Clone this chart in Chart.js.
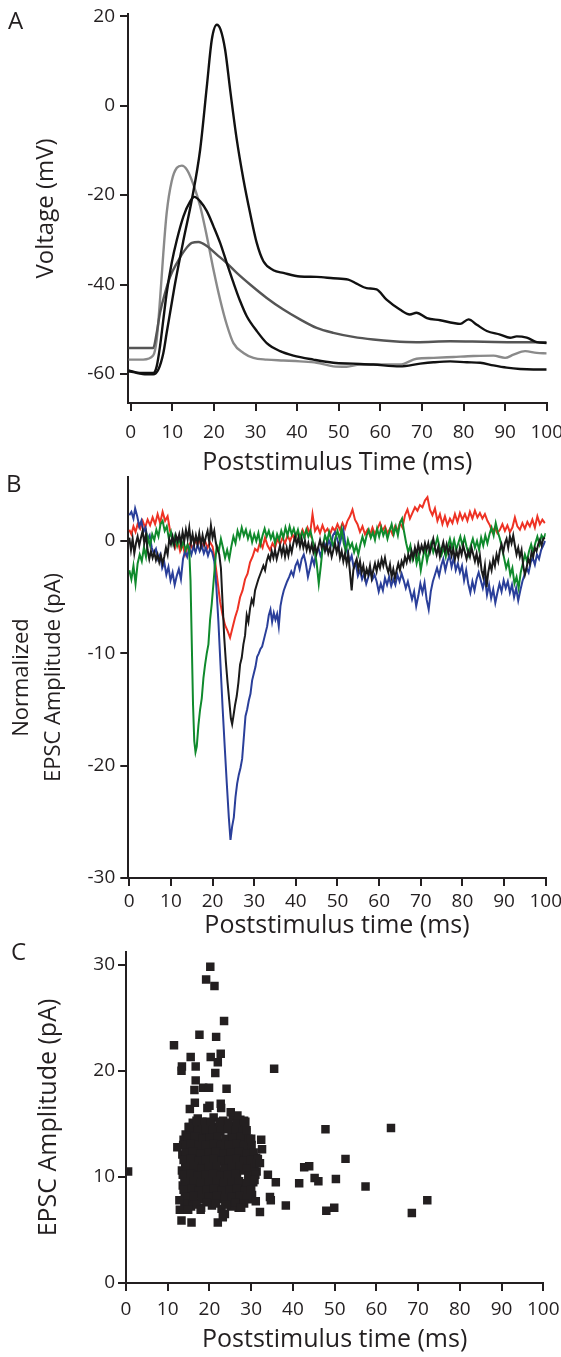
<!DOCTYPE html>
<html><head><meta charset="utf-8">
<script src="https://cdn.jsdelivr.net/npm/chart.js@4/dist/chart.umd.min.js"></script>
<style>
html,body{margin:0;padding:0;background:#fff;width:561px;height:1357px;overflow:hidden}
canvas{position:absolute;left:0}
</style></head><body>
<canvas id="cA" width="561" height="490" style="top:0px"></canvas>
<canvas id="cB" width="561" height="485" style="top:465px"></canvas>
<canvas id="cC" width="561" height="422" style="top:935px"></canvas>
<script>
// ---------- Panel A : membrane voltage traces ----------
const timeTicks = [0,10,20,30,40,50,60,70,80,90,100];
const voltTicks = [20,0,-20,-40,-60];
const spikeT = [-0.5,0.6,3.8,5.4,6.65,7.85,8.65,9.6,10.7,12.7,14.7,16.7,18.3,19.5,20.7,21.6,22.7,23.9,25.5,27.1,28.7,30.3,31.9,34.3,36.7,40.7,44.7,48.7,52.3,54.3,56.7,59.1,61.5,64.7,67.1,68.7,71.2,74.4,77.6,79.2,81.2,83.2,85.6,88.8,91.2,92.8,95.2,97.6,100];
const spikeV = [-59.4,-59.6,-60.1,-60.1,-59.0,-55.3,-50.8,-45.6,-39.6,-30.0,-21.0,-9.8,4.3,14.8,18.1,17.0,12.5,3.6,-7.6,-16.5,-24.0,-30.7,-34.8,-36.8,-37.4,-38.2,-38.3,-38.6,-38.9,-39.8,-40.8,-41.1,-43.4,-45.6,-46.7,-46.3,-47.5,-48.0,-48.6,-48.8,-47.8,-49.0,-50.4,-51.2,-51.9,-51.6,-51.9,-52.9,-53.1];
const medT = [-0.5,2.2,5.4,6.25,7.05,7.85,8.65,9.85,11.1,12.7,14.3,15.3,16.7,18.3,19.9,21.5,23.1,24.7,26.3,27.9,30.3,32.7,35.9,39.1,43.9,48.7,53.5,58.3,64.7,69.6,72.8,76.8,80.8,84.0,87.2,90.4,93.6,96.8,100];
const medV = [-59.2,-59.8,-59.8,-58.3,-53.8,-47.8,-41.9,-35.2,-30.0,-24.7,-21.4,-20.4,-21.4,-23.6,-27.0,-30.7,-35.2,-39.6,-43.7,-47.1,-50.4,-53.1,-54.9,-55.9,-56.8,-57.5,-57.7,-57.9,-58.3,-57.7,-57.4,-57.2,-57.4,-57.5,-58.1,-58.6,-58.9,-59.0,-59.0];
const lightT = [-0.5,3.0,5.4,6.25,7.05,7.85,8.65,9.85,11.1,12.3,13.5,15.1,16.7,18.3,19.9,21.5,23.1,24.7,27.1,29.5,32.7,36.7,40.7,44.7,48.7,51.9,55.1,59.9,64.7,68.7,72.8,77.6,82.4,87.2,90.0,92.0,94.8,97.6,100];
const lightV = [-56.8,-56.8,-55.9,-52.3,-43.4,-32.9,-24.0,-16.9,-13.9,-13.4,-14.3,-17.7,-22.5,-29.2,-36.7,-43.4,-49.0,-53.1,-55.3,-56.4,-56.8,-57.0,-57.2,-57.5,-58.3,-58.4,-57.9,-57.9,-57.9,-56.6,-56.4,-56.2,-56.0,-55.9,-56.4,-55.7,-54.9,-55.3,-55.4];
const darkT = [-0.5,3.0,5.4,6.25,7.05,8.25,9.5,11.1,13.1,14.7,16.3,18.3,20.7,23.1,25.5,28.7,32.7,36.7,40.7,44.7,48.7,53.5,58.3,63.1,68.7,76.8,84.8,92.8,100];
const darkV = [-54.2,-54.2,-54.2,-50.8,-46.3,-41.9,-38.2,-35.2,-32.2,-30.7,-30.5,-31.4,-33.3,-35.2,-37.4,-40.0,-43.0,-45.6,-47.8,-49.7,-50.8,-51.7,-52.3,-52.7,-52.9,-52.7,-52.8,-52.9,-52.9];

// ---------- Panel B : normalized EPSC traces ----------
const epscTicks = [0,-10,-20,-30];
const redT = [0.0,0.5,1.0,1.5,2.0,2.6,3.2,3.8,4.4,5.0,5.6,6.2,6.8,7.4,8.0,8.6,9.2,9.8,10.4,11.0,11.6,12.2,12.8,13.4,14.0,14.6,15.2,15.8,16.4,17.0,17.6,18.2,18.8,19.4,20.0,20.6,21.2,21.8,22.4,23.0,23.6,24.2,24.8,25.4,26.0,26.6,27.2,27.8,28.4,29.0,29.6,30.2,30.8,31.4,32.0,32.6,33.2,33.8,34.4,35.0,35.6,36.2,36.8,37.4,38.0,38.6,39.2,39.8,40.4,41.0,41.6,42.2,42.8,43.4,44.0,44.6,45.2,45.8,46.4,47.0,47.6,48.2,48.8,49.4,50.0,50.6,51.2,51.8,52.4,53.0,53.6,54.2,54.8,55.4,56.0,56.6,57.2,57.8,58.4,59.0,59.6,60.2,60.8,61.4,62.0,62.6,63.2,63.8,64.4,65.0,65.6,66.2,66.8,67.4,68.0,68.6,69.2,69.8,70.4,71.0,71.6,72.2,72.8,73.4,74.0,74.6,75.2,75.8,76.4,77.0,77.6,78.2,78.8,79.4,80.0,80.6,81.2,81.8,82.4,83.0,83.6,84.2,84.8,85.4,86.0,86.6,87.2,87.8,88.4,89.0,89.6,90.2,90.8,91.4,92.0,92.6,93.2,93.8,94.4,95.0,95.6,96.2,96.8,97.4,98.0,98.6,99.2,99.8];
const redV = [1.0,0.6,1.3,0.8,1.5,1.1,1.8,1.2,1.9,1.4,2.1,1.5,2.4,1.6,2.6,1.8,2.2,0.9,0.2,-0.6,0.1,-0.9,-0.3,-1.2,-0.5,-0.2,-0.7,0.1,-0.4,0.2,-0.5,0.0,-0.6,-0.1,-0.5,-1.8,-3.6,-5.4,-6.6,-7.5,-8.0,-8.6,-7.7,-6.8,-6.1,-5.0,-4.4,-3.4,-2.9,-1.9,-1.4,-0.7,-0.9,-0.1,-0.6,0.3,-0.4,-0.8,-0.2,-0.6,0.2,-0.3,0.3,-0.2,0.5,0.0,0.6,0.1,0.8,0.3,1.0,0.5,1.2,0.6,2.4,0.9,1.3,0.7,1.4,0.8,1.1,0.6,1.2,0.9,1.5,1.0,1.6,1.1,1.8,2.2,2.8,1.9,1.5,0.8,1.3,0.6,1.0,0.5,1.2,0.6,1.1,1.6,0.9,1.3,0.7,1.1,0.6,1.3,0.9,1.6,1.2,2.3,2.8,2.0,2.5,3.0,2.7,3.2,3.0,3.6,3.9,2.8,2.3,2.9,1.8,2.4,1.5,2.2,1.4,2.0,1.6,2.4,1.7,2.5,1.9,2.4,1.8,2.6,2.0,2.7,2.1,2.5,2.0,2.4,1.8,1.4,0.8,1.2,0.7,1.0,1.5,0.9,1.4,0.8,1.2,2.1,1.3,1.0,1.6,1.1,1.7,1.3,1.9,1.2,2.2,1.5,1.9,1.6];
const blueT = [0.0,0.5,1.0,1.4,1.9,2.4,2.9,3.4,3.9,4.4,4.9,5.4,5.9,6.4,6.9,7.4,7.9,8.4,8.9,9.4,9.9,10.4,10.9,11.4,11.9,12.4,12.9,13.4,13.9,14.4,14.9,15.4,15.9,16.4,16.9,17.4,17.9,18.4,18.9,19.4,19.9,20.4,20.9,21.4,21.9,22.4,22.9,23.4,23.9,24.3,24.7,25.1,25.5,25.9,26.3,26.7,27.1,27.5,27.9,28.3,28.7,29.1,29.5,29.9,30.3,30.7,31.1,31.5,31.9,32.3,32.7,33.1,33.5,33.9,34.3,34.7,35.1,35.5,35.9,36.3,36.7,37.1,37.5,37.9,38.4,38.9,39.4,39.9,40.4,40.9,41.4,41.9,42.4,42.9,43.4,43.9,44.4,44.9,45.4,45.9,46.4,46.9,47.4,47.9,48.4,48.9,49.4,49.9,50.4,50.9,51.4,51.9,52.4,52.9,53.4,53.9,54.4,54.9,55.4,55.9,56.4,56.9,57.4,57.9,58.4,58.9,59.4,59.9,60.4,60.9,61.4,61.9,62.4,62.9,63.4,63.9,64.4,64.9,65.4,65.9,66.4,66.9,67.4,67.9,68.4,68.9,69.4,69.9,70.4,70.9,71.4,71.9,72.4,72.9,73.4,73.9,74.4,74.9,75.4,75.9,76.4,76.9,77.4,77.9,78.4,78.9,79.4,79.9,80.4,80.9,81.4,81.9,82.4,82.9,83.4,83.9,84.4,84.9,85.4,85.9,86.4,86.9,87.4,87.9,88.4,88.9,89.4,89.9,90.4,90.9,91.4,91.9,92.4,92.9,93.4,93.9,94.4,94.9,95.4,95.9,96.4,96.9,97.4,97.9,98.4,98.9,99.4,99.9];
const blueV = [2.3,2.6,2.0,2.9,2.2,1.3,1.8,0.8,1.2,0.1,0.5,-0.6,-1.1,-0.7,-1.6,-1.2,-2.4,-1.9,-3.0,-2.3,-3.5,-2.8,-3.9,-3.1,-2.5,-3.4,-1.6,-0.9,-1.4,-0.6,-1.2,-0.5,-1.0,-0.3,-0.9,-0.4,-1.1,-0.6,-1.3,-0.7,-1.0,-1.8,-4.0,-7.2,-11.0,-14.8,-18.2,-21.5,-24.6,-26.6,-25.4,-24.6,-22.8,-21.6,-20.8,-20.2,-19.4,-17.5,-15.6,-15.0,-14.2,-13.6,-12.4,-11.8,-11.2,-10.3,-10.0,-9.6,-9.4,-8.8,-8.2,-7.6,-6.6,-6.1,-7.2,-6.4,-7.0,-6.5,-7.6,-5.8,-5.0,-4.4,-4.0,-3.6,-3.2,-2.7,-3.1,-2.2,-1.8,-2.5,-1.6,-1.2,-2.0,-3.2,-2.4,-1.5,-2.1,-1.0,-0.6,-1.3,-0.8,-0.2,-0.7,0.1,-0.4,0.5,0.8,0.2,-0.5,0.3,1.0,-0.3,-1.0,-1.8,-1.3,-2.4,-2.0,-3.1,-2.6,-3.4,-2.9,-3.8,-3.2,-2.6,-3.4,-3.0,-3.6,-4.5,-3.8,-4.4,-3.3,-3.9,-3.2,-4.0,-3.4,-3.9,-3.0,-3.6,-2.9,-3.5,-4.2,-3.6,-4.4,-5.2,-4.5,-5.8,-4.9,-3.8,-4.6,-3.7,-5.2,-6.1,-4.5,-3.6,-3.0,-2.4,-3.1,-2.2,-1.6,-2.6,-1.8,-1.3,-2.3,-1.5,-2.6,-2.0,-2.8,-2.2,-3.5,-2.6,-3.8,-4.6,-3.6,-4.4,-3.4,-2.8,-3.5,-4.2,-3.3,-4.8,-3.9,-5.1,-4.3,-5.5,-4.6,-3.8,-4.5,-3.5,-4.2,-3.6,-4.6,-3.9,-5.0,-4.2,-5.3,-4.4,-3.6,-3.0,-2.4,-2.8,-1.9,-1.5,-2.1,-1.2,-1.6,-0.8,-0.4,0.0];
const greenT = [0.0,0.5,1.0,1.5,2.0,2.5,3.0,3.5,4.0,4.5,5.0,5.5,6.0,6.5,7.0,7.5,8.0,8.5,9.0,9.5,10.0,10.5,11.0,11.5,12.0,12.5,13.0,13.5,14.0,14.4,14.7,15.0,15.3,15.6,15.9,16.2,16.6,17.0,17.4,17.8,18.2,18.6,19.0,19.4,19.8,20.2,20.6,21.0,21.5,22.0,22.5,23.0,23.5,24.0,24.5,25.0,25.5,26.0,26.5,27.0,27.5,28.0,28.5,29.0,29.5,30.0,30.5,31.0,31.5,32.0,32.5,33.0,33.5,34.0,34.5,35.0,35.5,36.0,36.5,37.0,37.5,38.0,38.5,39.0,39.5,40.0,40.5,41.0,41.5,42.0,42.5,43.0,43.5,44.0,44.5,45.0,45.5,46.0,46.5,47.0,47.5,48.0,48.5,49.0,49.5,50.0,50.5,51.0,51.5,52.0,52.5,53.0,53.5,54.0,54.5,55.0,55.5,56.0,56.5,57.0,57.5,58.0,58.5,59.0,59.5,60.0,60.5,61.0,61.5,62.0,62.5,63.0,63.5,64.0,64.5,65.0,65.5,66.0,66.5,67.0,67.5,68.0,68.5,69.0,69.5,70.0,70.5,71.0,71.5,72.0,72.5,73.0,73.5,74.0,74.5,75.0,75.5,76.0,76.5,77.0,77.5,78.0,78.5,79.0,79.5,80.0,80.5,81.0,81.5,82.0,82.5,83.0,83.5,84.0,84.5,85.0,85.5,86.0,86.5,87.0,87.5,88.0,88.5,89.0,89.5,90.0,90.5,91.0,91.5,92.0,92.5,93.0,93.5,94.0,94.5,95.0,95.5,96.0,96.5,97.0,97.5,98.0,98.5,99.0,99.5,100.0];
const greenV = [-2.6,-3.4,-2.2,-3.8,-2.0,-1.2,-1.8,-0.6,-1.4,0.3,-0.4,0.6,0.1,1.0,0.4,1.5,1.8,0.9,1.3,0.2,0.8,-0.2,0.5,-0.4,0.3,-0.6,0.0,-0.8,-0.3,-0.9,-3.5,-9.0,-14.5,-17.8,-18.8,-18.3,-16.4,-15.0,-14.0,-12.2,-11.0,-10.0,-9.2,-7.0,-5.6,-3.8,-2.0,-0.4,-0.9,0.2,-0.6,-1.5,-0.8,-1.6,-0.5,0.4,-0.2,0.9,0.3,1.2,0.5,1.0,0.2,0.8,-0.1,0.6,0.0,0.7,-0.3,0.5,1.1,0.4,0.9,0.2,0.7,-0.2,0.6,0.1,0.9,0.3,1.2,0.5,1.3,0.6,1.1,0.4,1.0,0.2,0.8,0.3,1.0,0.4,0.9,0.1,-0.8,-2.0,-3.8,-2.2,-0.4,0.5,0.0,0.8,0.1,-0.5,0.3,0.9,0.2,1.1,-0.2,-0.9,0.1,-0.6,-0.2,-1.0,-0.4,-1.2,-0.3,0.4,-0.3,0.5,1.0,0.3,0.8,0.1,1.1,0.4,1.2,0.5,1.0,0.2,0.9,1.5,0.6,1.3,0.5,1.6,2.0,0.8,-0.2,-1.0,-0.4,-1.6,-0.9,-2.0,-1.2,-2.6,-1.5,-0.6,-1.8,-0.9,-0.2,-1.0,-0.4,0.3,-0.5,-1.2,-0.6,-1.4,-0.5,0.2,-0.6,0.1,-0.8,-0.2,0.4,-0.4,0.3,-0.5,-1.2,-0.4,0.2,-0.6,0.0,-0.8,0.3,-0.4,0.5,-0.2,0.6,1.2,0.5,1.6,0.8,0.2,-0.6,-1.5,-2.4,-1.8,-3.0,-2.4,-3.8,-3.2,-4.2,-2.8,-2.0,-1.2,-1.8,-0.9,-0.3,-1.0,-0.2,0.4,-0.3,0.5,0.2,0.7];
const blackT = [0.0,0.4,0.8,1.2,1.6,2.0,2.4,2.8,3.2,3.6,4.0,4.4,4.8,5.2,5.6,6.0,6.4,6.8,7.2,7.6,8.0,8.4,8.8,9.2,9.6,10.0,10.4,10.8,11.2,11.6,12.0,12.4,12.8,13.2,13.6,14.0,14.4,14.8,15.2,15.6,16.0,16.4,16.8,17.2,17.6,18.0,18.4,18.8,19.2,19.6,20.0,20.4,20.8,21.2,21.6,22.0,22.4,22.8,23.2,23.6,24.0,24.4,24.7,25.0,25.4,25.8,26.2,26.6,27.0,27.4,27.8,28.2,28.6,29.0,29.4,29.8,30.2,30.6,31.0,31.4,31.8,32.2,32.6,33.0,33.4,33.8,34.2,34.6,35.0,35.4,35.8,36.2,36.6,37.0,37.4,37.8,38.2,38.6,39.0,39.4,39.8,40.2,40.6,41.0,41.4,41.8,42.2,42.6,43.0,43.4,43.8,44.2,44.6,45.0,45.4,45.8,46.2,46.6,47.0,47.4,47.8,48.2,48.6,49.0,49.4,49.8,50.2,50.6,51.0,51.4,51.8,52.2,52.6,53.0,53.4,53.8,54.2,54.6,55.0,55.4,55.8,56.2,56.6,57.0,57.4,57.8,58.2,58.6,59.0,59.4,59.8,60.2,60.6,61.0,61.4,61.8,62.2,62.6,63.0,63.4,63.8,64.2,64.6,65.0,65.4,65.8,66.2,66.6,67.0,67.4,67.8,68.2,68.6,69.0,69.4,69.8,70.2,70.6,71.0,71.4,71.8,72.2,72.6,73.0,73.4,73.8,74.2,74.6,75.0,75.4,75.8,76.2,76.6,77.0,77.4,77.8,78.2,78.6,79.0,79.4,79.8,80.2,80.6,81.0,81.4,81.8,82.2,82.6,83.0,83.4,83.8,84.2,84.6,85.0,85.4,85.8,86.2,86.6,87.0,87.4,87.8,88.2,88.6,89.0,89.4,89.8,90.2,90.6,91.0,91.4,91.8,92.2,92.6,93.0,93.4,93.8,94.2,94.6,95.0,95.4,95.8,96.2,96.6,97.0,97.4,97.8,98.2,98.6,99.0,99.4,99.8];
const blackV = [0.3,-0.8,0.2,-1.1,-0.2,0.4,-0.4,0.3,0.9,-0.2,0.6,-0.8,-1.6,-0.9,-1.5,-1.0,-1.7,-1.2,-1.9,-1.3,-2.0,-1.4,-0.6,-1.2,0.2,-0.3,0.4,-0.4,0.5,0.0,0.6,-0.2,0.8,0.0,1.0,0.2,1.2,-0.2,0.6,-0.3,0.5,-0.2,0.7,-0.4,0.5,-0.3,0.4,0.9,-0.1,1.4,0.3,0.9,-0.2,-0.8,-1.2,-2.4,-5.5,-8.6,-10.8,-12.6,-14.2,-15.8,-16.3,-15.6,-14.6,-13.8,-12.6,-11.0,-10.4,-9.2,-8.4,-6.6,-7.2,-6.0,-5.2,-5.6,-4.4,-3.9,-3.4,-3.0,-2.6,-2.2,-2.6,-1.8,-1.3,-1.7,-0.9,-1.5,-0.8,-1.6,-1.0,-0.4,-1.2,-0.5,-1.4,-0.6,-1.3,-0.4,-1.0,-0.2,0.4,-0.3,0.3,-0.5,0.2,-0.6,0.0,-0.8,-0.2,-0.9,-0.3,-1.0,-0.4,-1.1,-0.5,0.1,-0.6,-0.2,-0.9,-0.3,-1.1,-0.6,-1.4,-0.8,-0.2,-1.0,-0.4,-1.5,-0.9,-1.8,-1.1,-2.0,-1.2,-2.8,-4.4,-2.6,-2.0,-1.6,-2.5,-1.8,-2.8,-2.2,-3.2,-2.5,-3.0,-2.2,-3.3,-2.6,-2.0,-2.7,-1.9,-2.4,-1.6,-2.2,-1.5,-2.3,-2.8,-2.1,-3.2,-2.5,-3.3,-2.6,-2.0,-2.6,-1.8,-2.2,-1.4,-1.9,-1.2,-1.7,-0.9,-1.5,-0.6,-1.2,-0.3,-1.0,-0.4,-0.9,-0.2,-0.8,-0.2,-1.0,-0.4,0.2,-0.6,-1.2,-0.5,-1.4,-0.7,-0.1,-0.9,-0.3,-1.1,-0.5,-1.3,-0.7,-1.6,-0.9,-1.5,-0.6,-1.2,-0.4,-1.0,-1.6,-0.9,-1.4,-0.6,-1.2,-1.8,-1.1,-2.0,-1.3,-2.6,-3.2,-2.2,-4.1,-2.8,-2.0,-2.6,-1.6,-2.2,-1.2,-1.8,-0.8,-0.3,-1.0,-0.2,0.2,-0.6,0.4,-0.2,0.5,-0.4,-1.2,-0.6,-1.4,-0.8,-2.2,-3.0,-2.4,-1.6,-2.0,-1.0,-1.4,-0.6,-0.9,-0.3,0.1,-0.4,0.2,0.3];

// ---------- Panel C : EPSC amplitude vs latency ----------
const ampTicks = [0,10,20,30];
const latencyMs = [
 17.2,19.4,21.0,23.3,25.6,27.4,
 15.0,16.6,18.5,20.3,22.1,24.0,26.2,28.1,
 14.3,16.0,17.9,19.7,21.5,25.3,27.0,28.8,
 13.8,15.6,17.3,19.1,20.9,22.7,24.6,26.4,28.3,29.9,
 14.6,16.4,18.2,20.0,21.8,23.6,25.5,27.3,29.1,
 13.5,15.3,17.1,18.9,20.7,22.5,24.3,26.2,28.0,29.8,31.2,
 14.2,16.0,17.8,19.6,21.4,23.2,25.1,26.9,28.7,30.4,
 13.4,15.2,17.0,18.8,20.6,22.4,24.2,26.0,27.8,29.6,31.3,
 14.0,15.8,17.6,19.4,21.2,23.0,24.8,26.6,30.1,
 13.6,15.4,17.2,19.0,20.8,22.6,24.4,26.2,28.0,29.7,
 14.1,15.9,17.7,19.5,21.3,23.1,24.9,26.7,28.5,30.2,
 14.8,16.6,18.4,20.2,22.0,23.8,25.6,27.4,29.2,
 15.6,18.0,20.6,22.9,25.1,27.0,
 16.0,18.3,20.2,22.4,24.6,26.5,28.6,
 15.4,17.2,19.0,20.8,22.6,24.5,26.4,28.0,
 14.7,16.5,18.4,20.1,21.9,23.8,25.6,27.5,29.3,
 13.7,15.5,17.4,19.2,21.0,22.8,24.7,26.5,28.2,30.1,
 14.3,16.1,18.0,19.8,21.6,23.4,25.2,27.1,28.9,30.6,
 13.8,15.6,17.4,19.2,21.0,22.9,24.7,26.5,28.3,30.0,31.6,
 14.5,16.3,18.1,19.9,21.7,23.6,25.4,27.2,29.0,30.8,
 13.6,15.4,17.2,19.0,20.9,22.7,24.5,26.3,29.3,31.0,
 14.4,16.2,18.0,19.8,21.7,23.5,25.3,27.1,28.9,30.5,
 13.8,15.7,17.5,19.3,21.1,23.0,24.8,26.6,28.4,30.0,
 14.4,16.2,18.1,19.9,21.8,23.6,25.4,27.2,29.0,
 14.0,16.9,19.3,21.5,24.0,26.2,28.3,
 0.5,11.5,17.6,19.2,20.2,21.2,23.5,21.6,15.5,20.3,22.7,13.4,13.3,16.7,22.0,21.4,35.5,16.7,16.4,18.5,19.9,24.1,16.5,15.3,19.5,20.0,22.7,22.8,
 47.8,63.5,32.4,32.6,52.6,42.7,43.9,45.2,46.1,50.3,41.5,35.9,34.0,57.4,72.2,68.5,48.0,49.9,38.3,34.5,34.7,32.1,31.1,
 12.3,12.8,12.9,14.9,13.3,15.7,17.9,22.0,23.7,23.2,27.6,30.0,28.9,28.3,26.7,25.1,15.2,16.9,30.8,31.3,32.1
];
const amplitudePA = [
 15.5,15.2,15.6,15.3,15.7,15.4,
 14.7,15.0,14.6,14.9,14.7,15.0,14.8,14.6,
 14.0,14.2,13.9,14.2,14.0,14.1,13.9,14.2,
 13.5,13.3,13.6,13.3,13.5,13.2,13.4,13.6,13.3,13.5,
 12.6,12.8,12.5,12.8,12.6,12.9,12.6,12.8,12.5,
 12.1,11.9,12.2,11.9,12.1,11.8,12.0,12.2,11.9,12.1,11.8,
 11.2,11.4,11.1,11.4,11.2,11.5,11.2,11.4,11.1,11.3,
 10.6,10.4,10.7,10.5,10.8,10.5,10.7,10.4,10.6,10.8,10.5,
 9.9,10.1,9.8,10.0,9.7,10.0,9.8,10.1,9.9,
 9.2,9.0,9.3,9.1,9.4,9.1,9.3,9.0,9.2,9.4,
 8.5,8.7,8.4,8.6,8.3,8.6,8.4,8.7,8.5,8.3,
 7.8,7.6,7.9,7.7,7.9,7.6,7.8,7.7,7.9,
 7.2,7.1,7.3,7.0,7.2,7.1,
 15.1,15.2,15.0,15.2,15.1,15.0,15.2,
 14.4,14.3,14.5,14.4,14.3,14.5,14.4,14.3,
 13.7,13.8,13.6,13.7,13.8,13.6,13.7,13.8,13.6,
 13.0,13.1,12.9,13.0,13.1,12.9,13.0,13.1,12.9,13.0,
 12.3,12.4,12.2,12.3,12.4,12.2,12.3,12.4,12.2,12.3,
 11.6,11.7,11.5,11.6,11.7,11.5,11.6,11.7,11.5,11.6,11.7,
 10.9,11.0,10.8,10.9,11.0,10.8,10.9,11.0,10.8,10.9,
 10.2,10.3,10.1,10.2,10.3,10.1,10.2,10.3,10.1,10.2,
 9.5,9.6,9.4,9.5,9.6,9.4,9.5,9.6,9.4,9.5,
 8.8,8.9,8.7,8.8,8.9,8.7,8.8,8.9,8.7,8.8,
 8.1,8.2,8.0,8.1,8.2,8.0,8.1,8.2,8.0,
 7.5,7.4,7.6,7.5,7.4,7.6,7.5,
 10.5,22.4,23.4,28.6,29.8,28.0,24.7,23.2,21.3,21.3,21.6,20.4,20.0,20.4,20.8,19.8,20.2,19.1,18.2,18.4,18.4,18.3,17.0,16.4,16.5,16.7,16.9,16.5,
 14.5,14.6,13.5,12.6,11.7,10.9,11.0,9.9,9.6,9.8,9.4,9.5,10.2,9.1,7.8,6.6,6.8,7.1,7.3,8.1,7.8,6.7,7.7,
 12.8,7.8,6.9,6.9,5.9,5.7,6.9,5.7,6.5,6.2,7.1,13.6,14.4,15.3,15.8,16.1,14.7,15.3,9.7,11.3,11.3
];

// ---------- common styling ----------
const FONT = '"Open Sans", "Liberation Sans", sans-serif';
const INK = '#231f20';
const pts = (xs, ys) => xs.map((x, i) => ({x, y: ys[i]}));

const letterPlugin = {
  id: 'panelLetter',
  afterDraw(chart, args, o) {
    const ctx = chart.ctx;
    ctx.save();
    ctx.font = '24px ' + FONT;
    ctx.fillStyle = INK;
    ctx.textBaseline = 'alphabetic';
    ctx.textAlign = 'left';
    ctx.fillText(o.text, o.x, o.y);
    ctx.restore();
  }
};

function axis(c) {
  return {
    type: 'linear', min: c.min, max: c.max,
    afterBuildTicks: s => { s.ticks = c.ticks.map(v => ({value: v})); },
    afterFit: s => {
      if (c.w !== undefined) s.width = c.w;
      if (c.h !== undefined) s.height = c.h;
      s.paddingLeft = 0; s.paddingRight = 0; s.paddingTop = 0; s.paddingBottom = 0;
    },
    grid: {display: true, drawOnChartArea: false, drawTicks: true, tickLength: 8, color: INK, lineWidth: 2},
    border: {display: true, color: INK, width: 2},
    ticks: {color: INK, font: {family: FONT, size: 19, lineHeight: 1.2}, padding: c.pad, maxRotation: 0, autoSkip: false, callback: v => String(v)},
    title: {display: true, text: c.title, color: INK, font: {family: FONT, size: c.tsize, lineHeight: c.tlh || 1.2}, padding: c.tpad}
  };
}

function makeChart(id, datasets, o) {
  return new Chart(document.getElementById(id), {
    type: 'scatter',
    data: {datasets},
    options: {
      responsive: false, animation: false, devicePixelRatio: 1,
      layout: {padding: {left: 0, top: o.top, right: o.right, bottom: 0}},
      plugins: {legend: {display: false}, tooltip: {enabled: false}, panelLetter: o.letter},
      events: [],
      scales: {x: axis(o.x), y: axis(o.y)}
    },
    plugins: [letterPlugin]
  });
}

const lineDs = (xs, ys, color, w, smooth) => ({
  data: pts(xs, ys), showLine: true, borderColor: color, borderWidth: w,
  pointRadius: 0, fill: false, tension: 0,
  cubicInterpolationMode: smooth ? 'monotone' : 'default'
});

// Panel A
makeChart('cA', [
  lineDs(spikeT, spikeV, '#111111', 2.4, true),
  lineDs(medT, medV, '#111111', 2.4, true),
  lineDs(darkT, darkV, '#555555', 2.4, true),
  lineDs(lightT, lightV, '#8a8a8a', 2.4, true)
], {
  top: 14, right: 14.3,
  letter: {text: 'A', x: 8, y: 29},
  x: {min: -0.65, max: 100, ticks: timeTicks, h: 87, pad: 10.4, title: 'Poststimulus Time (ms)', tsize: 25, tpad: {top: 0, bottom: 12.5}},
  y: {min: -66.5, max: 20.5, ticks: voltTicks, w: 128, pad: 5, title: 'Voltage (mV)', tsize: 24, tpad: {top: 31.5, bottom: 0}}
});

// Panel B
makeChart('cB', [
  lineDs(blackT, blackV, '#1a1a1a', 2, false),
  lineDs(greenT, greenV, '#0f8a2c', 2, false),
  lineDs(blueT, blueV, '#2a3f9a', 2, false),
  lineDs(redT, redV, '#ee3224', 2, false)
], {
  top: 12, right: 15.3,
  letter: {text: 'B', x: 6, y: 27},
  x: {min: -0.24, max: 100, ticks: timeTicks, h: 72, pad: 4.1, title: 'Poststimulus time (ms)', tsize: 25, tpad: {top: 0, bottom: 8.8}},
  y: {min: -30, max: 5.7, ticks: epscTicks, w: 128.3, pad: 5, title: ['Normalized', 'EPSC Amplitude (pA)'], tsize: 22, tlh: 1.45, tpad: {top: 5.7, bottom: 0}}
});

// Panel C
makeChart('cC', [{
  data: pts(latencyMs, amplitudePA), pointStyle: 'rect', pointRadius: 6,
  backgroundColor: INK, borderColor: INK, borderWidth: 0, showLine: false
}], {
  top: 17, right: 17.7,
  letter: {text: 'C', x: 11, y: 25},
  x: {min: 0, max: 100, ticks: timeTicks, h: 74, pad: 7.4, title: 'Poststimulus time (ms)', tsize: 25, tpad: {top: 0, bottom: 2}},
  y: {min: 0, max: 31.2, ticks: ampTicks, w: 126, pad: 3, title: 'EPSC Amplitude (pA)', tsize: 25, tpad: {top: 34, bottom: 0}}
});
</script>
</body></html>
